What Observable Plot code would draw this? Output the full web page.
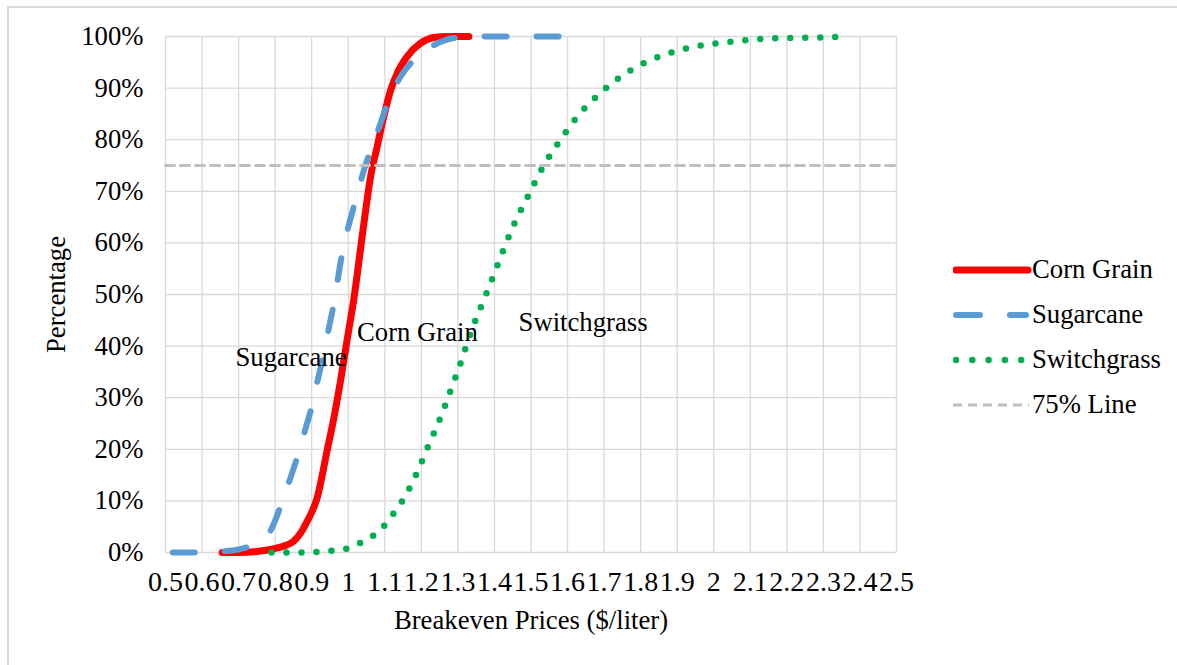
<!DOCTYPE html>
<html><head><meta charset="utf-8">
<script src="https://cdn.jsdelivr.net/npm/d3@7"></script>
<script src="https://cdn.jsdelivr.net/npm/@observablehq/plot@0.6"></script>
<style>
body{margin:0;background:#fff;font-family:"Liberation Serif","Times New Roman",serif;}
#wrap{position:relative;width:1177px;height:665px;overflow:hidden;background:#fff;}
#frame{position:absolute;left:7px;top:6px;width:1300px;height:800px;border:2px solid #d9d9d9;}
#chart{position:absolute;left:0;top:0;}
#legend{position:absolute;left:953px;top:247px;font-size:26.7px;color:#000;}
.row{display:flex;align-items:center;height:45px;}
.row svg{width:79px;height:14px;flex:none;}
</style></head><body>
<div id="wrap"><div id="frame"></div><div id="chart"></div><div id="legend"></div></div>
<script>
const xTicks = [0.5,0.6,0.7,0.8,0.9,1.0,1.1,1.2,1.3,1.4,1.5,1.6,1.7,1.8,1.9,2.0,2.1,2.2,2.3,2.4,2.5];
const yTicks = [0,10,20,30,40,50,60,70,80,90,100];

const cornX = [0.655,0.70,0.75,0.795,0.83,0.851,0.87,0.888,0.915,0.942,0.961,0.979,0.996,1.015,1.044,1.061,1.079,1.097,1.116,1.134,1.161,1.198,1.234,1.27,1.33];
const cornY = [0,0,0.2,0.7,1.4,2.2,3.8,6.1,10.6,19.7,26.2,33.3,40.8,49.0,64.4,72.8,78.6,84.4,89.6,92.9,96.1,98.7,99.8,100,100];

const caneX = [0.52,0.60,0.65,0.70,0.733,0.76,0.787,0.815,0.842,0.865,0.883,0.901,0.915,0.933,0.947,0.960,0.981,1.02,1.043,1.061,1.088,1.107,1.143,1.179,1.234,1.289,1.343,1.45,1.586];
const caneY = [0,0,0.2,0.6,1.3,2.5,4.2,9.0,14.5,19.5,24.0,28.5,33.0,38.5,43.5,48.0,57.0,68.3,74.1,78.0,83.1,87.0,92.2,95.4,98.3,99.7,100,100,100];

const switchX = [0.79,0.88,0.96,1.0,1.034,1.067,1.097,1.122,1.146,1.185,1.218,1.251,1.28,1.309,1.334,1.366,1.397,1.427,1.46,1.497,1.535,1.581,1.628,1.686,1.745,1.811,1.884,1.959,2.037,2.119,2.2,2.285,2.368];
const switchY = [0,0,0.4,0.8,1.9,3.2,5.1,7.4,9.8,15,20.5,25.9,31.4,37,42.4,48.1,53.6,59.1,64.6,69.8,75,80,84.6,88.8,92.2,94.9,96.9,98.2,98.9,99.5,99.7,99.8,100];

const refX = [0.5,2.5];
const refY = [75,75];

const seriesNames = ["Corn Grain","Sugarcane","Switchgrass","75% Line"];
const seriesColors = ["#ff0000","#5b9bd5","#00b050","#bfbfbf"];

const annText = ["Sugarcane","Corn Grain","Switchgrass"];
const annX = [0.6915,1.024,1.466];
const annY = [37.8,42.7,44.5];

const pts = (xs, ys) => xs.map((x,i)=>({x, y: ys[i]}));
const ann = annText.map((t,i)=>({t, x: annX[i], y: annY[i]}));
const FONT = "Liberation Serif, Times New Roman, serif";

const chart = Plot.plot({
  width:1177, height:665,
  marginLeft:165, marginRight:281, marginTop:36, marginBottom:113,
  style:{fontFamily:FONT, fontSize:"26.7px", background:"transparent", color:"#000"},
  x:{domain:[0.5,2.5]},
  y:{domain:[0,100]},
  marks:[
    Plot.gridX(xTicks,{stroke:"#d9d9d9", strokeOpacity:1, strokeWidth:1.3}),
    Plot.gridY(yTicks,{stroke:"#d9d9d9", strokeOpacity:1, strokeWidth:1.3}),
    Plot.axisX(xTicks,{tickSize:0, tickPadding:19, fontSize:28, tickFormat:d=>String(+d.toFixed(1)), label:null}),
    Plot.axisX([],{tickSize:0, fontSize:26.7,
      label:"Breakeven Prices ($/liter)", labelAnchor:"center", labelOffset:76, labelArrow:"none"}),
    Plot.axisY(yTicks,{tickSize:0, tickPadding:22, fontSize:26.7, tickFormat:d=>d+"%",
      label:"Percentage", labelAnchor:"center", labelOffset:119, labelArrow:"none"}),
    Plot.line(pts(cornX,cornY),{x:"x",y:"y",curve:"monotone-x",stroke:seriesColors[0],strokeWidth:7,strokeLinecap:"round",strokeLinejoin:"round"}),
    Plot.line(pts(caneX,caneY),{x:"x",y:"y",curve:"monotone-x",stroke:seriesColors[1],strokeWidth:6,strokeLinecap:"round",strokeLinejoin:"round",strokeDasharray:"22,30"}),
    Plot.line(pts(switchX,switchY),{x:"x",y:"y",curve:"monotone-x",stroke:seriesColors[2],strokeWidth:6.5,strokeLinecap:"round",strokeDasharray:"0,15"}),
    Plot.line(pts(refX,refY),{x:"x",y:"y",stroke:seriesColors[3],strokeWidth:3,strokeDasharray:"9,6"}),
    Plot.text(ann,{x:"x",y:"y",text:"t",textAnchor:"start",fontSize:26.7,fill:"#000",fontFamily:FONT})
  ]
});
document.getElementById("chart").appendChild(chart);

const samples = [
  '<line x1="3" y1="7" x2="75" y2="7" stroke="#ff0000" stroke-width="7" stroke-linecap="round"/>',
  '<line x1="3" y1="7" x2="73" y2="7" stroke="#5b9bd5" stroke-width="6" stroke-linecap="round" stroke-dasharray="24,30"/>',
  '<line x1="3" y1="7" x2="70" y2="7" stroke="#00b050" stroke-width="6.5" stroke-linecap="round" stroke-dasharray="0,16.3"/>',
  '<line x1="0" y1="7" x2="76" y2="7" stroke="#bfbfbf" stroke-width="3" stroke-dasharray="9,6"/>'
];
const leg = document.getElementById("legend");
seriesNames.forEach((n,i)=>{
  const r = document.createElement("div");
  r.className="row";
  r.innerHTML = `<svg viewBox="0 0 79 14">${samples[i]}</svg><span>${n}</span>`;
  leg.appendChild(r);
});
</script>
</body></html>
